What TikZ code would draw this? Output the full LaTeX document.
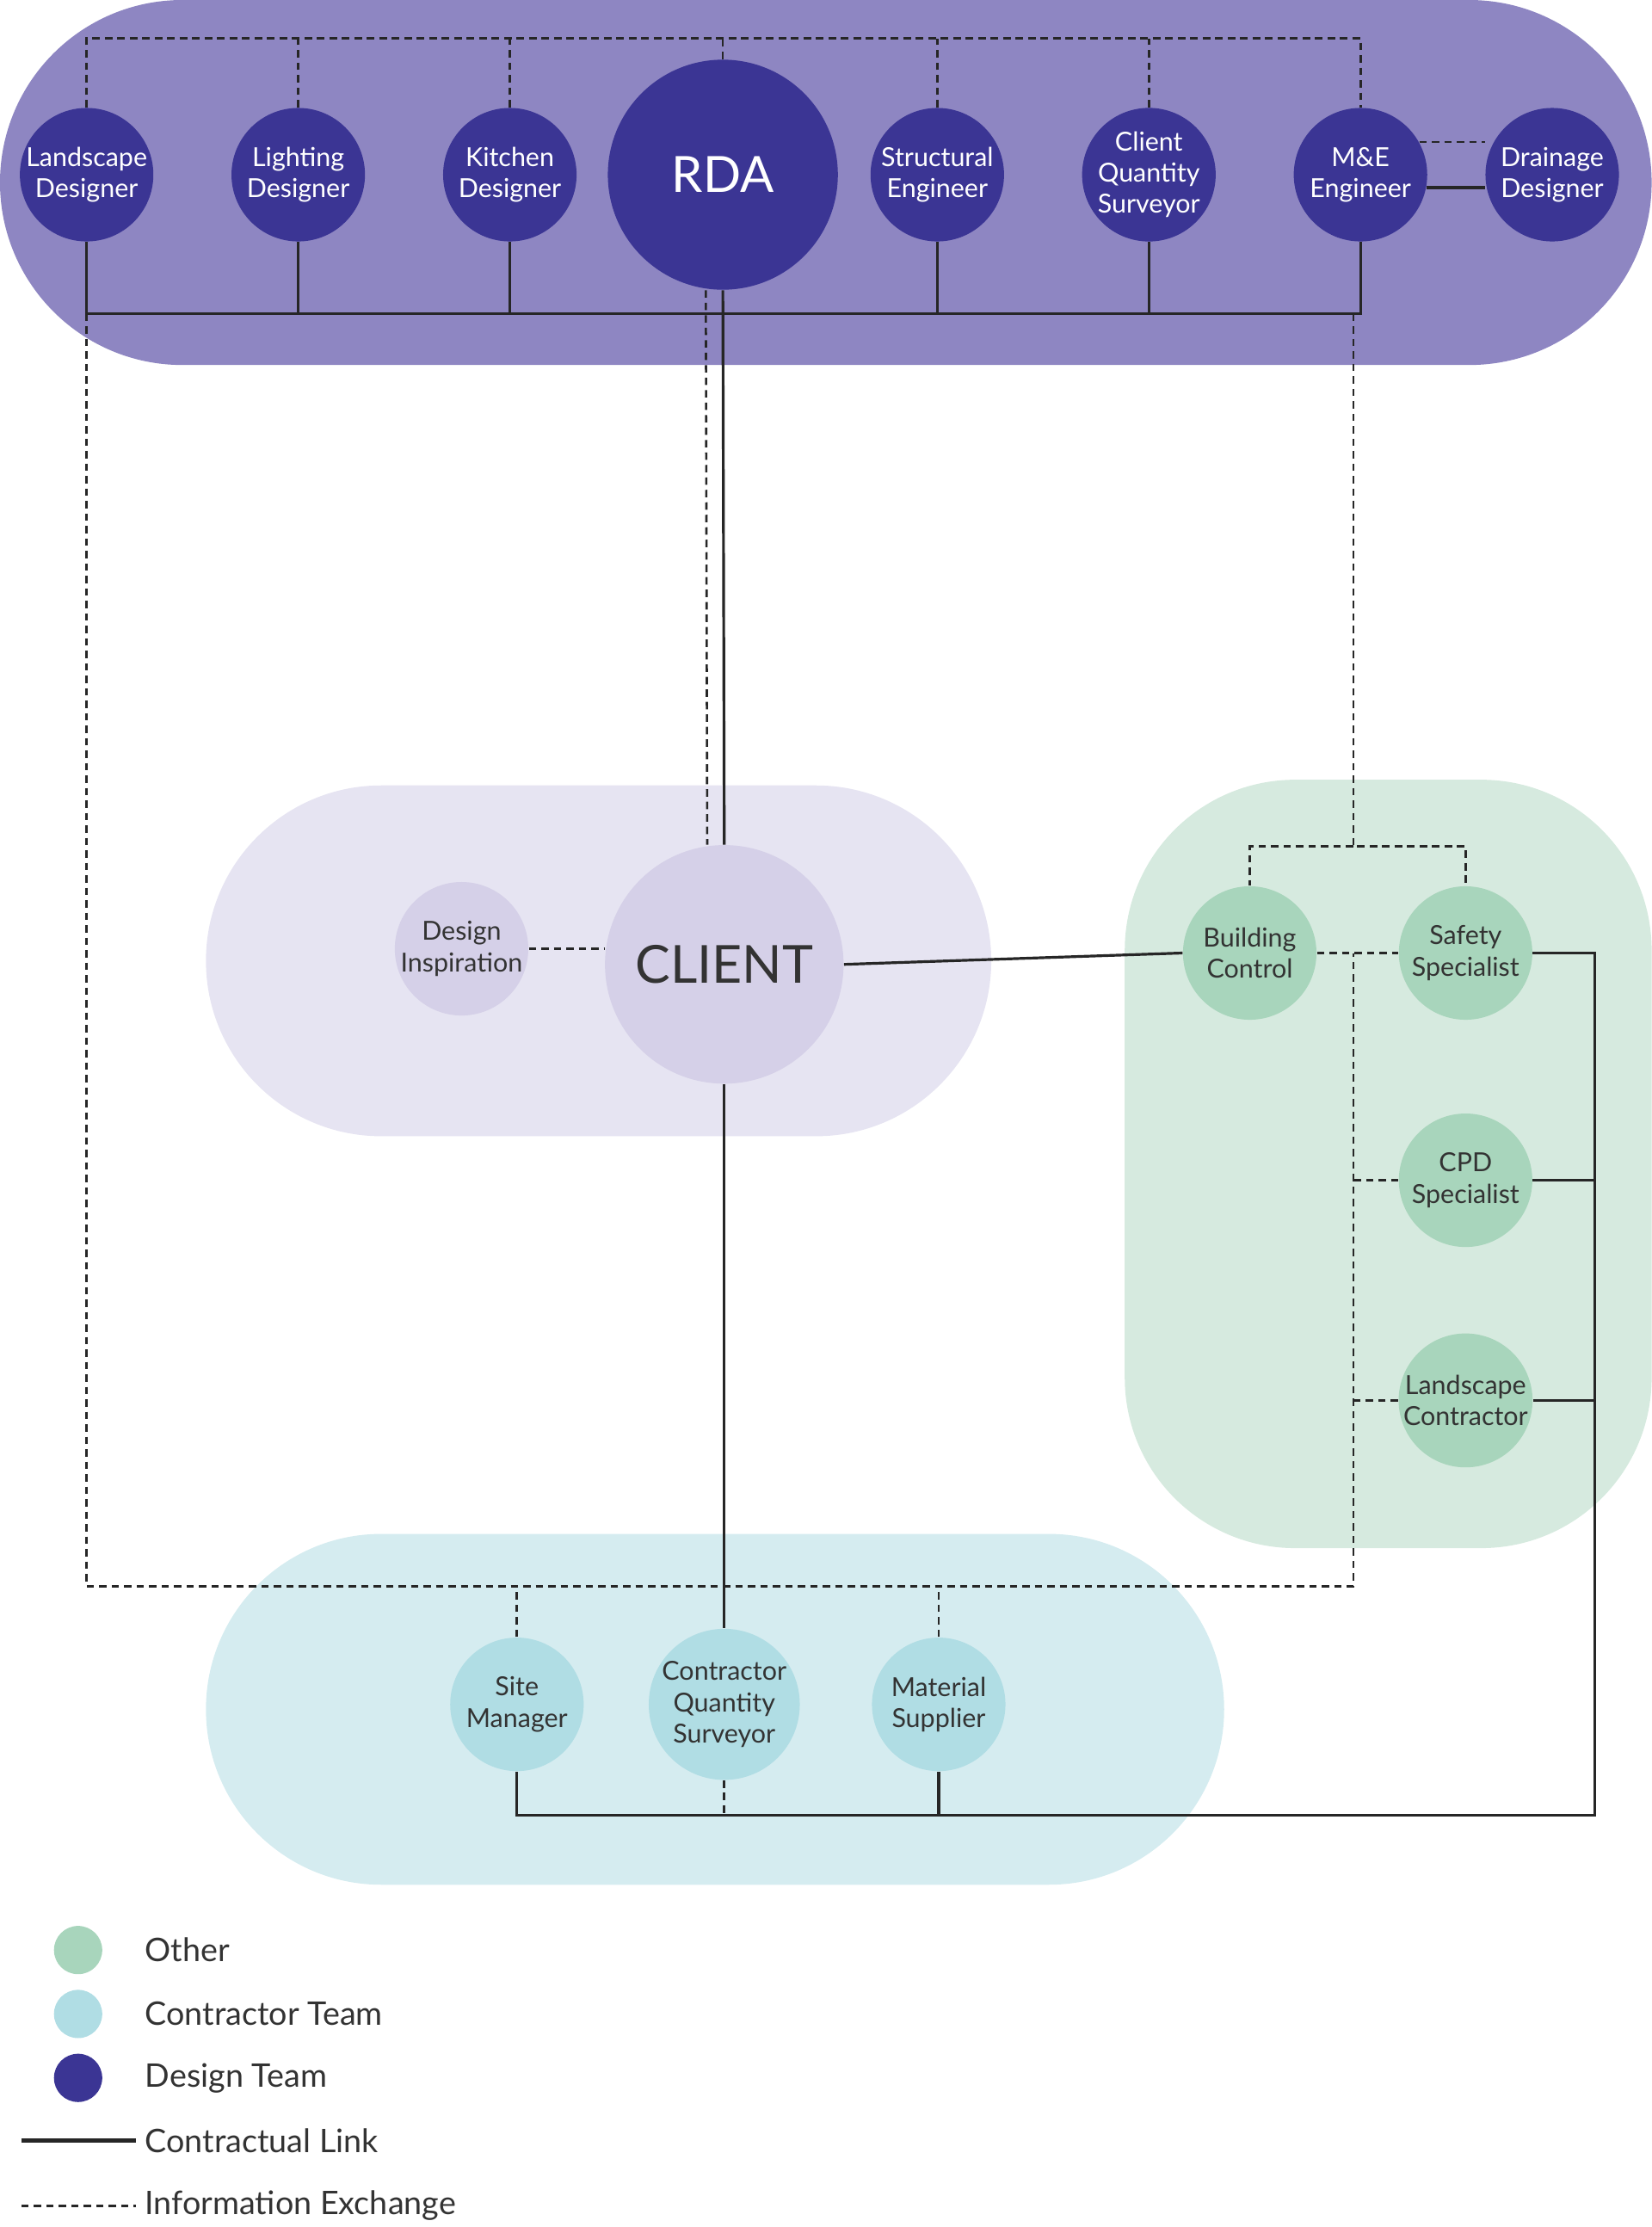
\documentclass[tikz,border=0pt]{standalone}
\usepackage{fontspec}
\setmainfont{Lato}
\usepackage{tikz}
\usetikzlibrary{positioning,calc}
\definecolor{designdark}{HTML}{3B3594}
\definecolor{designbg}{HTML}{8E86C2}
\definecolor{clientbg}{HTML}{E6E4F2}
\definecolor{clientfill}{HTML}{D5D0E8}
\definecolor{otherbg}{HTML}{D2E8DB}
\definecolor{otherfill}{HTML}{A8D5BC}
\definecolor{contrbg}{HTML}{D5ECF0}
\definecolor{contrfill}{HTML}{B0DDE4}
\definecolor{inktext}{HTML}{333333}

\begin{document}
\begin{tikzpicture}[
    x=0.02cm,y=-0.02cm,
    member/.style={circle,minimum size=1.88cm,inner sep=0pt,align=center,
      font=\fontsize{10.5}{12.5}\selectfont},
    designer/.style={member,fill=designdark,text=white},
    otherm/.style={member,fill=otherfill,text=inktext},
    contrm/.style={member,fill=contrfill,text=inktext},
    clientm/.style={member,fill=clientfill,text=inktext},
    group/.style={rounded corners=2.4cm},
    contract/.style={line width=1.1pt,black!85},
    info/.style={line width=0.9pt,black!85,dash pattern=on 3pt off 2pt},
    legendtext/.style={anchor=west,font=\fontsize{13}{15}\selectfont,text=inktext}
  ]
  \useasboundingbox (0,0) rectangle (1163,1568);

  % Group backgrounds
  \fill[designbg,rounded corners=2.57cm] (0,0) rectangle (1163,257);
  \fill[clientbg,rounded corners=2.47cm] (145,553) rectangle (698,800);
  \fill[contrbg,rounded corners=2.47cm] (145,1080) rectangle (862,1327);
  \fill[otherbg,rounded corners=2.4cm,opacity=0.9] (792,549) rectangle (1163,1090);

  % Design Team
  \node[designer] (ld) at (61,123) {Landscape\\Designer};
  \node[designer] (lig) at (210,123) {Lighting\\Designer};
  \node[designer] (kit) at (359,123) {Kitchen\\Designer};
  \node[designer,minimum size=3.24cm,font=\fontsize{20}{22}\selectfont] (rda) at (509,123) {RDA};
  \node[designer] (str) at (660,123) {Structural\\Engineer};
  \node[designer] (cqsd) at (809,123) {Client\\Quantity\\Surveyor};
  \node[designer] (me) at (958,123) {M\&E\\Engineer};
  \node[designer] (dr) at (1093,123) {Drainage\\Designer};

  % Client
  \node[clientm,minimum size=3.36cm,font=\fontsize{21}{23}\selectfont] (client) at (510,679) {CLIENT};
  \node[clientm] (di) at (325,668) {Design\\Inspiration};

  % Other
  \node[otherm] (bc) at (880,671) {Building\\Control};
  \node[otherm] (ss) at (1032,671) {Safety\\Specialist};
  \node[otherm] (cpd) at (1032,831) {CPD\\Specialist};
  \node[otherm] (lc) at (1032,986) {Landscape\\Contractor};

  % Contractor Team
  \node[contrm] (sm) at (364,1200) {Site\\Manager};
  \node[contrm] (cqs) at (510,1200) {Contractor\\Quantity\\Surveyor};
  \node[contrm] (ms) at (661,1200) {Material\\Supplier};

  % Junctions
  \coordinate (dtop) at (0,27);
  \coordinate (dbot) at (0,221);
  \coordinate (dlow) at (0,1117);
  \coordinate (cbot) at (0,1278);
  \coordinate (spine) at (953,0);
  \coordinate (rail) at (1123,0);
  \coordinate (split) at (953,596);

  \begin{scope}[on background layer/.style={}]
  % Information exchange
  \draw[info] (ld.north) -- (ld.north |- dtop) -| (me.north);
  \foreach \n in {lig,kit,rda,str,cqsd}
    \draw[info] (\n.north) -- (\n.north |- dtop);
  \draw[info] (me.29) -- (me.29 -| dr.west);
  \draw[info] ([xshift=-0.24cm]rda.south) -- ([xshift=-0.24cm]client.north);
  \draw[info] (ld |- dbot) -- (ld |- dlow) -| (spine |- bc.east);
  \draw[info] (bc.east) -- (ss.west);
  \draw[info] (spine |- dbot) -- (split) -| (ss.north);
  \draw[info] (split) -| (bc.north);
  \draw[info] (cpd.west) -- (cpd.west -| spine);
  \draw[info] (lc.west) -- (lc.west -| spine);
  \draw[info] (di.east) -- (client.west |- di.east);
  \draw[info] (sm.north) -- (sm.north |- dlow);
  \draw[info] (ms.north) -- (ms.north |- dlow);
  \draw[info] (cqs.south) -- (cqs.south |- cbot);

  % Contractual links
  \draw[contract] (ld.south) |- (me.south |- dbot) -- (me.south);
  \foreach \n in {lig,kit,str,cqsd}
    \draw[contract] (\n.south) -- (\n.south |- dbot);
  \draw[contract] (me.-11) -- (me.-11 -| dr.west);
  \draw[contract] (rda.south) -- (client.north);
  \draw[contract] (client.east) -- (bc.west);
  \draw[contract] (client.south) -- (cqs.north);
  \draw[contract] (ss.east) -| (rail |- cbot) -| (sm.south);
  \draw[contract] (cpd.east) -- (cpd.east -| rail);
  \draw[contract] (lc.east) -- (lc.east -| rail);
  \draw[contract] (ms.south) -- (ms.south |- cbot);
  \end{scope}

  % Legend
  \node[circle,fill=otherfill,minimum size=0.68cm] (lgo) at (55,1373) {};
  \node[circle,fill=contrfill,minimum size=0.68cm] (lgc) at (55,1418) {};
  \node[circle,fill=designdark,minimum size=0.68cm] (lgd) at (55,1463) {};
  \node[legendtext] (lgot) at (96,1373) {Other};
  \node[legendtext] (lgct) at (96,1418) {Contractor Team};
  \node[legendtext] (lgdt) at (96,1463) {Design Team};
  \node[legendtext] (lgcl) at (96,1507) {Contractual Link};
  \node[legendtext] (lgie) at (96,1553) {Information Exchange};
  \coordinate (lgcs) at (15,1507);
  \coordinate (lgis) at (15,1553);
  \draw[contract,line width=1.6pt] (lgcs) -- (lgcl.west);
  \draw[info] (lgis) -- (lgie.west);
\end{tikzpicture}
\end{document}
